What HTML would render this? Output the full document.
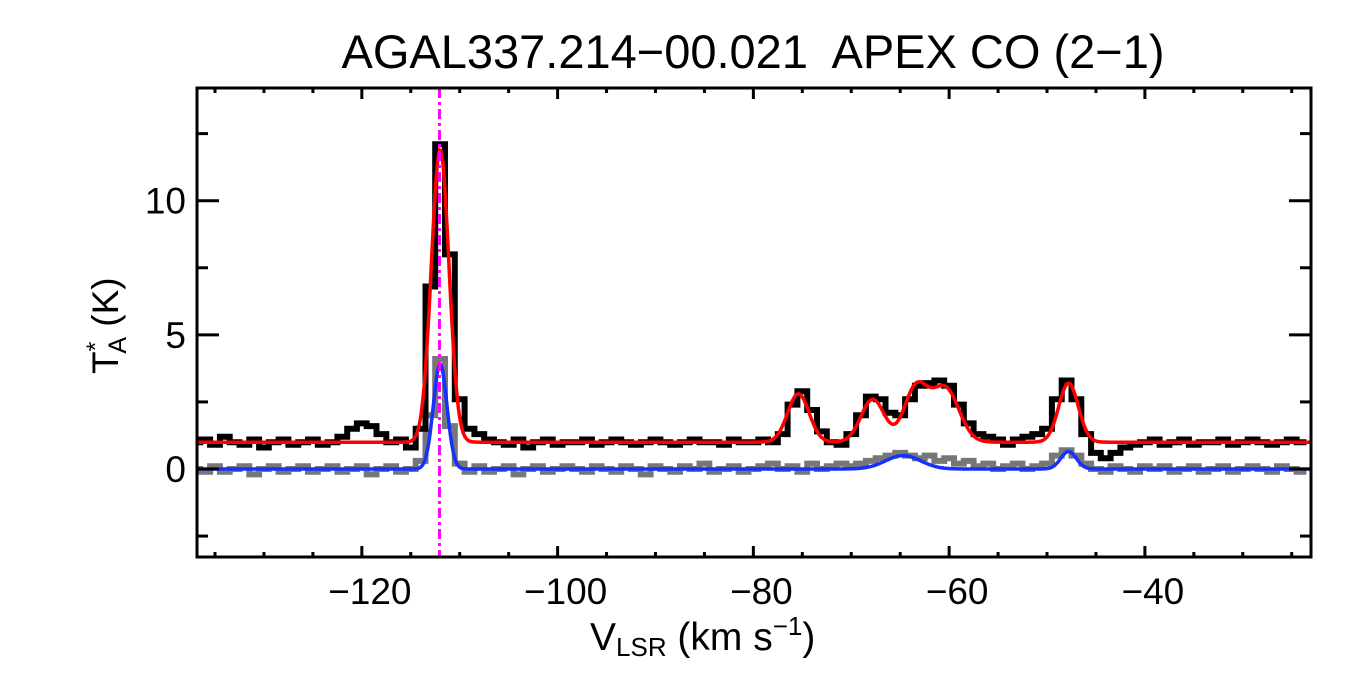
<!DOCTYPE html>
<html><head><meta charset="utf-8"><style>
body{margin:0;background:#fff}
svg{display:block;font-family:"Liberation Sans",sans-serif}
</style></head><body>
<svg id="c" width="1350" height="675" viewBox="0 0 1350 675">
<text x="753" y="68" font-size="47" text-anchor="middle" xml:space="preserve">AGAL337.214−00.021  APEX CO (2−1)</text>
<g id="plot"></g>
<text x="590" y="650" font-size="39">V<tspan font-size="26" dy="6">LSR</tspan><tspan dy="-6"> (km s</tspan><tspan font-size="26" dy="-15">−1</tspan><tspan dy="15">)</tspan></text>
<text transform="translate(118,374) rotate(-90)" font-size="37">T<tspan font-size="25" dy="-14">*</tspan><tspan font-size="25" dx="-12" dy="22">A</tspan><tspan dy="-8"> (K)</tspan></text>
</svg>
<script>
const v0=-137, dv=1;
const black=[1.0,1.1,0.9,1.2,1.0,0.9,1.1,0.8,1.0,1.1,0.9,1.0,1.1,0.9,
1.0,1.2,1.5,1.7,1.6,1.3,1.0,1.1,0.8,
1.5,6.8,12.1,8.0,2.6,1.5,
1.3,1.1,1.0,0.9,1.1,0.8,1.0,1.1,0.9,1.0,1.0,1.1,0.9,1.0,1.1,1.0,0.9,1.0,1.1,1.0,0.9,1.0,1.1,1.0,1.0,0.9,1.1,1.0,1.0,1.1,1.0,
1.3,2.4,2.9,2.2,1.4,1.0,0.9,1.3,2.0,2.7,2.6,2.1,2.0,2.6,3.1,3.2,3.3,3.1,2.4,1.7,1.3,1.2,1.1,0.9,1.1,1.2,1.3,1.5,2.6,3.3,2.6,1.3,0.6,0.4,0.6,0.8,0.9,1.0,
1.1,0.9,1.0,1.1,0.9,1.0,1.0,1.1,0.9,1.0,1.1,1.0,0.9,1.0,1.1,1.0];
const gray=[0.0,-0.1,0.1,-0.1,0.0,0.1,-0.2,0.0,0.1,-0.1,0.0,0.1,-0.1,0.0,
0.1,-0.1,0.0,0.1,-0.2,0.0,0.1,-0.1,0.0,
0.3,2.0,4.1,1.6,0.2,-0.1,
0.1,-0.1,0.0,0.1,-0.2,0.0,0.1,-0.1,0.0,0.1,0.0,-0.1,0.1,0.0,-0.1,0.1,0.0,-0.2,0.1,0.0,-0.1,0.1,0.0,0.2,-0.1,0.0,0.1,-0.1,0.0,0.1,0.2,
0.0,0.1,-0.1,0.2,0.0,0.1,0.2,0.1,0.2,0.3,0.4,0.5,0.6,0.5,0.4,0.5,0.3,0.4,0.2,0.3,0.1,0.2,0.0,0.1,0.2,0.0,0.1,0.2,0.5,0.7,0.5,0.2,0.0,-0.1,0.1,0.0,-0.1,0.1,
0.0,0.1,-0.1,0.0,0.1,-0.1,0.0,0.1,-0.1,0.0,0.1,0.0,-0.1,0.1,0.0,-0.1];
const redBase=1.0;
const redAmp=[10.9,1.8,1.6,2.0,2.0,2.2];
const redCen=[-112,-75.4,-67.8,-63.4,-60.4,-47.8];
const redSig=[0.9,1.1,1.2,1.2,1.4,1.0];
const blueAmp=[3.9,0.5,0.65];
const blueCen=[-112,-64.7,-47.8];
const blueSig=[0.7,1.8,0.8];
const xTicks=[-120,-100,-80,-60,-40];
const yTicks=[0,5,10];
const vline=-112.07;

const L=197,R=1311,T=88,B=557,xmin=-136.84,xmax=-23.03,ymin=-3.28,ymax=14.2;
const X=v=>L+(v-xmin)/(xmax-xmin)*(R-L);
const Y=t=>B-(t-ymin)/(ymax-ymin)*(B-T);
const NS='http://www.w3.org/2000/svg';
const g=document.getElementById('plot');
function mk(tag,at){const e=document.createElementNS(NS,tag);for(const k in at)e.setAttribute(k,at[k]);g.appendChild(e);return e;}
const cp=mk('clipPath',{id:'cl'});const cr=document.createElementNS(NS,'rect');cp.appendChild(cr);
cr.setAttribute('x',L);cr.setAttribute('y',T);cr.setAttribute('width',R-L);cr.setAttribute('height',B-T);
function steps(arr){let d='';arr.forEach((t,i)=>{const a=X(v0+dv*i-dv/2),b=X(v0+dv*i+dv/2);d+=(i?'L':'M')+a.toFixed(1)+','+Y(t).toFixed(1)+'L'+b.toFixed(1)+','+Y(t).toFixed(1);});return d;}
function model(base,A,C,S){let d='';for(let v=xmin;v<=xmax;v+=0.1){let t=base;for(let k=0;k<A.length;k++)t+=A[k]*Math.exp(-0.5*((v-C[k])/S[k])**2);d+=(d?'L':'M')+X(v).toFixed(1)+','+Y(t).toFixed(1);}return d;}
let e;
e=mk('path',{d:steps(gray),fill:'none',stroke:'#777','stroke-width':6,'clip-path':'url(#cl)'});


e=mk('path',{d:steps(black),fill:'none',stroke:'#000','stroke-width':6,'clip-path':'url(#cl)'});


e=mk('path',{d:model(redBase,redAmp,redCen,redSig),fill:'none',stroke:'#f00','stroke-width':3.5,'clip-path':'url(#cl)'});


e=mk('path',{d:model(0,blueAmp,blueCen,blueSig),fill:'none',stroke:'#1530ff','stroke-width':3.5,'clip-path':'url(#cl)'});


e=mk('line',{x1:X(vline),x2:X(vline),y1:T,y2:B,stroke:'#f0f','stroke-width':3,'stroke-dasharray':'10 4 3 4'});


e=mk('rect',{x:L,y:T,width:R-L,height:B-T,fill:'none',stroke:'#000','stroke-width':3});


for(let v=-135;v<=xmax;v+=5){const maj=v%20===0;const h=maj?11:5;
 e=mk('line',{x1:X(v),x2:X(v),y1:B,y2:B-h,stroke:'#000','stroke-width':3});
 
 
 e=mk('line',{x1:X(v),x2:X(v),y1:T,y2:T+h,stroke:'#000','stroke-width':3});
 
 }
for(let t=-2.5;t<=ymax;t+=2.5){const maj=Math.abs(t%5)<1e-6;const h=maj?22:11;
 e=mk('line',{x1:L,x2:L+h,y1:Y(t),y2:Y(t),stroke:'#000','stroke-width':3});
 
 
 e=mk('line',{x1:R,x2:R-h,y1:Y(t),y2:Y(t),stroke:'#000','stroke-width':3});
 
 }
xTicks.forEach(v=>{e=mk('text',{x:X(v)+8,y:604,'font-size':37,'text-anchor':'middle'});e.textContent=String(v).replace('-','−');
 
 });
yTicks.forEach(t=>{e=mk('text',{x:186,y:Y(t)+13,'font-size':37,'text-anchor':'end'});e.textContent=t;
 
 });
</script>
</body></html>
